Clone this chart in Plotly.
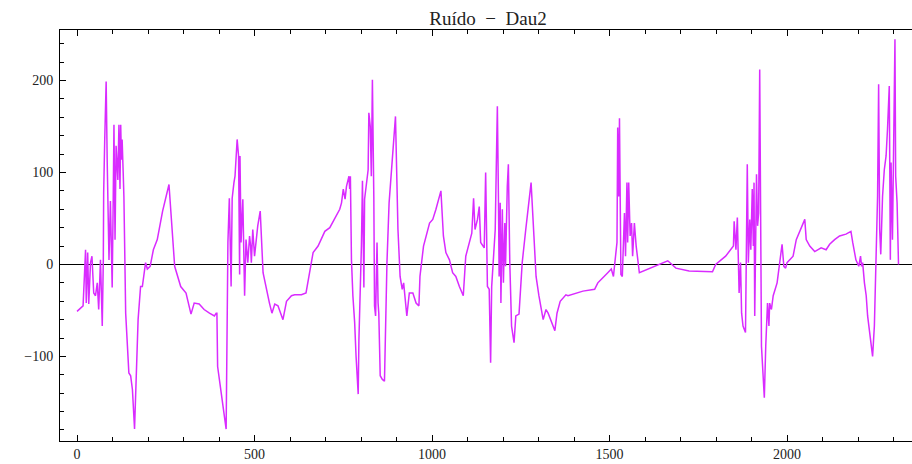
import plotly.graph_objects as go

# Sample index of each vertex of the noise trace
sample_idx = [
    0, 17, 24, 26, 30, 33, 38, 42, 47, 52, 57, 61, 66, 71, 74, 75, 78, 82, 85, 90,
    94, 99, 102, 104, 107, 110, 115, 118, 121, 123, 125, 127, 130, 132, 137, 146, 151, 156, 162, 165,
    172, 179, 184, 193, 198, 206, 215, 226, 241, 259, 269, 275, 292, 307, 321, 330, 344, 358, 373, 387,
    392, 394, 396, 406, 413, 420, 425, 429, 434, 437, 442, 445, 451, 455, 458, 459, 462, 467, 472, 476,
    481, 486, 489, 491, 495, 500, 509, 516, 524, 533, 542, 549, 557, 566, 580, 590, 604, 613, 632, 645,
    655, 665, 679, 698, 712, 731, 740, 745, 750, 755, 759, 766, 768, 770, 773, 777, 782, 786, 792, 794,
    798, 801, 804, 808, 810, 815, 820, 822, 826, 829, 832, 836, 838, 841, 845, 848, 850, 854, 860, 866,
    873, 879, 885, 893, 897, 904, 910, 916, 920, 929, 936, 946, 955, 963, 966, 976, 993, 1002, 1011, 1025,
    1032, 1039, 1049, 1058, 1067, 1077, 1088, 1095, 1105, 1112, 1117, 1121, 1128, 1133, 1137, 1147, 1151, 1156, 1161, 1165,
    1168, 1172, 1178, 1181, 1184, 1187, 1189, 1192, 1194, 1198, 1201, 1205, 1207, 1212, 1215, 1219, 1224, 1231, 1236, 1245,
    1254, 1264, 1273, 1279, 1287, 1293, 1301, 1313, 1321, 1327, 1346, 1352, 1361, 1377, 1383, 1407, 1425, 1458, 1467, 1477,
    1486, 1495, 1505, 1511, 1515, 1521, 1523, 1526, 1528, 1532, 1536, 1539, 1542, 1545, 1549, 1551, 1554, 1558, 1562, 1565,
    1570, 1575, 1579, 1584, 1664, 1687, 1724, 1790, 1799, 1827, 1849, 1851, 1856, 1860, 1863, 1865, 1869, 1872, 1876, 1883,
    1888, 1891, 1895, 1898, 1902, 1905, 1907, 1909, 1914, 1917, 1920, 1923, 1928, 1933, 1936, 1940, 1945, 1949, 1951, 1956,
    1961, 1972, 1979, 1986, 1991, 1996, 2000, 2007, 2017, 2026, 2036, 2050, 2054, 2064, 2078, 2087, 2096, 2110, 2120, 2134,
    2148, 2166, 2180, 2185, 2194, 2202, 2207, 2210, 2213, 2218, 2223, 2227, 2232, 2236, 2241, 2246, 2250, 2255, 2258, 2261,
    2264, 2269, 2274, 2279, 2283, 2288, 2291, 2293, 2297, 2300, 2304, 2306, 2310, 2314,
]

# Noise amplitude at each vertex
noise = [
    -51, -45, 16, -42, 13, -43, 2, 9, -31, -34, -20, -49, 5, -67, 5, 78, 136, 199, 111, 5,
    69, -25, 74, 152, 27, 129, 92, 152, 82, 152, 114, 136, 100, 74, -53, -118, -121, -136, -179, -136,
    -60, -24, -24, 2, -5, -2, 16, 27, 58, 87, 24, -2, -24, -31, -54, -42, -43, -49, -53, -56,
    -53, -53, -111, -139, -161, -179, 24, 72, -24, 72, 89, 96, 136, 118, -11, 118, 24, 71, -34, 27,
    2, 31, 20, 2, 38, 9, 42, 58, -9, -27, -42, -53, -43, -45, -60, -40, -34, -33, -33, -31,
    -9, 13, 20, 36, 40, 53, 60, 67, 82, 71, 85, 96, 82, 96, 5, -34, -63, -100, -141, -82,
    -34, 20, 91, -25, 71, 85, 103, 165, 150, 96, 201, 74, -45, -56, 24, -42, -53, -121, -125, -127,
    2, 67, 100, 136, 161, 38, -13, -27, -20, -56, -31, -31, -42, -45, -13, 20, 45, 49, 60, 80,
    31, 13, 5, -9, -13, -24, -34, 9, 24, 34, 72, 38, 49, 63, 24, 18, 100, -24, -27, -107,
    -24, 2, 38, 107, 172, 74, -13, 67, -42, 60, -20, 45, -2, 85, 109, 2, -67, -85, -56, -54,
    2, 38, 71, 89, 31, -13, -34, -60, -49, -53, -72, -53, -40, -33, -34, -31, -29, -27, -20, -16,
    -13, -9, -5, -13, 2, 24, 149, 74, 159, -11, -13, 16, 56, 9, 89, 24, 89, 31, 45, 9,
    45, 20, 5, -9, 4, -4, -7, -8, 0, 9, 20, 47, 16, 51, 2, -31, 2, -53, -67, -74,
    109, 2, 49, 16, 82, 20, 89, -56, 98, 42, 56, 212, -89, -125, -145, -89, -42, -67, -42, -49,
    -34, -20, 2, 22, -2, -4, 2, 5, 9, 27, 36, 49, 27, 20, 14, 16, 18, 16, 22, 27,
    31, 33, 36, 24, 5, -2, 9, -2, 2, -20, -34, -56, -74, -85, -100, -67, -13, 74, 196, 38,
    11, 74, 103, 118, 147, 194, 5, 111, 27, 129, 245, 96, 67, 0,
]

x_ticks = [0, 500, 1000, 1500, 2000]
x_tick_text = ["0", "500", "1000", "1500", "2000"]
y_ticks = [-100, 0, 100, 200]
y_tick_text = ["\u2212100", "0", "100", "200"]

serif = "Liberation Serif, Times New Roman, serif"

fig = go.Figure()
fig.add_trace(go.Scatter(
    x=sample_idx, y=noise, mode="lines",
    line=dict(color="#D92BFF", width=1.5),
    hoverinfo="skip", showlegend=False,
))

axis_common = dict(
    ticks="inside", ticklen=6, tickwidth=1, tickcolor="black",
    showline=True, linecolor="black", linewidth=1,
    showgrid=False,
    tickfont=dict(family=serif, size=14, color="#222"),
)

fig.update_xaxes(
    range=[-48, 2352], tickvals=x_ticks, ticktext=x_tick_text,
    mirror="allticks", zeroline=False,
    minor=dict(dtick=100, tick0=0, ticks="inside", ticklen=4, tickcolor="black", showgrid=False),
    **axis_common,
)
fig.update_yaxes(
    range=[-192, 255], tickvals=y_ticks, ticktext=y_tick_text,
    mirror=False, zeroline=True, zerolinecolor="black", zerolinewidth=1.3,
    minor=dict(dtick=20, tick0=0, ticks="inside", ticklen=4, tickcolor="black", showgrid=False),
    ticklabelstandoff=3,
    **axis_common,
)

fig.update_layout(
    width=912, height=464,
    margin=dict(l=60, r=0, t=30, b=23),
    paper_bgcolor="white", plot_bgcolor="white",
    title=dict(
        text="Ruído\u00a0\u00a0\u2212\u00a0\u00a0Dau2",
        font=dict(family=serif, size=19, color="#222"),
        x=488 / 912, xanchor="center", y=1 - 18 / 464, yanchor="middle", yref="container",
    ),
)

fig.write_html("out.html")
